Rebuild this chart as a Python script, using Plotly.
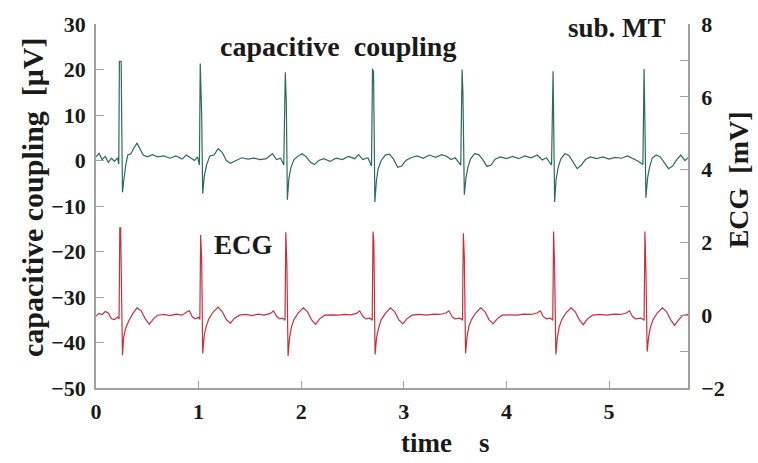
import plotly.graph_objects as go

# ---- data ----
# capacitive coupling signal (left axis, microvolts)
cc_time = [0.00, 0.03, 0.06, 0.09, 0.12, 0.15, 0.18, 0.21, 0.222,
           0.228, 0.245, 0.250, 0.258, 0.27, 0.29, 0.31, 0.34, 0.37, 0.40, 0.43, 0.46,
           0.50, 0.55, 0.60, 0.66, 0.72, 0.78, 0.84, 0.88, 0.92, 0.96, 0.99, 1.008,
           1.016, 1.024, 1.030, 1.040, 1.055, 1.08, 1.11, 1.15, 1.19, 1.23, 1.27, 1.31,
           1.36, 1.42, 1.48, 1.54, 1.60, 1.66, 1.72, 1.76, 1.80, 1.83,
           1.845, 1.855, 1.865, 1.88, 1.90, 1.93, 1.97, 2.01, 2.05, 2.09, 2.13, 2.17,
           2.22, 2.28, 2.34, 2.40, 2.46, 2.52, 2.56, 2.60, 2.65, 2.685,
           2.695, 2.705, 2.718, 2.733, 2.75, 2.78, 2.82, 2.86, 2.90, 2.94, 2.98, 3.02,
           3.07, 3.13, 3.19, 3.25, 3.31, 3.37, 3.42, 3.46, 3.50, 3.555,
           3.568, 3.576, 3.590, 3.605, 3.625, 3.65, 3.69, 3.73, 3.77, 3.81, 3.85, 3.89,
           3.94, 4.00, 4.06, 4.12, 4.18, 4.24, 4.30, 4.35, 4.39, 4.44,
           4.455, 4.465, 4.470, 4.485, 4.505, 4.53, 4.57, 4.61, 4.65, 4.69, 4.73, 4.77,
           4.82, 4.88, 4.94, 5.00, 5.06, 5.12, 5.18, 5.24, 5.29, 5.33,
           5.342, 5.352, 5.360, 5.375, 5.395, 5.42, 5.46, 5.50, 5.54, 5.58, 5.62, 5.66,
           5.70, 5.74, 5.77]
cc_uV = [0.8, 1.6, 0.2, 0.9, -0.4, 0.5, -0.2, 0.6, -0.8,
         21.8, 21.8, 14.0, -7.0, -4.5, -1.0, 1.2, 1.5, 2.8, 3.8, 2.5, 1.2,
         0.8, 1.3, 0.8, 1.0, 0.5, 1.0, 0.3, 1.2, 0.6, 0.0, 0.8, -1.0,
         21.3, 14.5, 10.0, -7.3, -3.5, -0.8, 1.0, 1.2, 2.6, 1.8, 0.0, -0.6,
         0.0, 0.6, 0.3, 0.5, 0.2, 0.4, 1.5, 0.2, 0.5, -1.0,
         19.4, 12.5, -8.6, -4.0, -1.5, 0.2, 1.0, 1.5, 0.8, -0.4, -0.9, 0.0,
         0.4, -0.2, 0.5, 0.2, 0.9, 0.4, 1.3, 0.2, 0.6, -1.2,
         20.2, 19.5, -9.1, -4.5, -1.8, 0.0, 1.2, 1.4, 0.3, -1.5, -1.2, 0.0,
         0.6, 1.0, 0.5, 1.2, 0.7, 1.3, 0.9, 0.2, 0.6, -1.0,
         20.0, 15.0, -7.5, -4.0, -1.5, 0.3, 1.5, 1.3, 0.2, -1.3, -1.0, 0.3,
         0.8, 0.4, 0.9, 0.4, 1.0, 0.6, 1.2, 0.1, 0.6, -1.0,
         19.6, 5.0, -9.1, -4.0, -1.5, 0.3, 1.5, 1.1, -0.5, -1.8, -1.0, 0.2,
         0.8, 0.4, 0.8, 0.3, 0.7, 0.5, 1.0, 0.4, -0.2, -0.9,
         20.1, 5.0, -8.2, -4.0, -1.5, 0.5, 1.2, 0.8, -0.4, -1.8, -1.2, 0.2,
         1.2, 0.0, 0.6]

# ECG signal (right axis, millivolts)
ecg_time = [0.00, 0.03, 0.06, 0.09, 0.12, 0.15, 0.18, 0.21, 0.225,
            0.232, 0.240, 0.248, 0.258, 0.27, 0.29, 0.32, 0.36, 0.40, 0.44, 0.48, 0.52,
            0.56, 0.60, 0.66, 0.72, 0.78, 0.84, 0.88, 0.91, 0.94, 0.97, 1.00, 1.012,
            1.020, 1.030, 1.040, 1.055, 1.075, 1.10, 1.14, 1.19, 1.23, 1.27, 1.31, 1.35,
            1.40, 1.46, 1.52, 1.58, 1.64, 1.70, 1.73, 1.76, 1.79, 1.82, 1.842,
            1.850, 1.860, 1.872, 1.887, 1.905, 1.93, 1.97, 2.02, 2.06, 2.10, 2.14, 2.18,
            2.23, 2.30, 2.36, 2.42, 2.48, 2.54, 2.57, 2.60, 2.63, 2.67, 2.692,
            2.700, 2.708, 2.720, 2.735, 2.755, 2.78, 2.82, 2.87, 2.91, 2.95, 2.99, 3.03,
            3.08, 3.15, 3.22, 3.29, 3.35, 3.41, 3.44, 3.47, 3.50, 3.55, 3.572,
            3.580, 3.590, 3.602, 3.617, 3.635, 3.66, 3.70, 3.75, 3.79, 3.83, 3.87, 3.91,
            3.96, 4.03, 4.10, 4.17, 4.24, 4.30, 4.33, 4.36, 4.39, 4.43, 4.452,
            4.460, 4.470, 4.482, 4.497, 4.515, 4.54, 4.58, 4.63, 4.67, 4.71, 4.75, 4.79,
            4.84, 4.91, 4.98, 5.05, 5.11, 5.17, 5.20, 5.23, 5.26, 5.31, 5.342,
            5.350, 5.360, 5.372, 5.387, 5.405, 5.43, 5.47, 5.52, 5.56, 5.60, 5.64, 5.68,
            5.72, 5.77]
ecg_mV = [-0.02, 0.05, 0.02, 0.10, 0.06, -0.10, -0.12, -0.05, -0.10,
          2.40, 2.40, 1.00, -1.10, -0.60, -0.35, -0.15, 0.05, 0.20, 0.12, -0.10, -0.25,
          -0.10, 0.00, 0.02, -0.01, 0.03, 0.00, 0.08, 0.12, -0.05, -0.10, -0.06, -0.12,
          2.20, 1.50, -1.05, -0.55, -0.30, -0.10, 0.08, 0.22, 0.10, -0.12, -0.22, -0.08,
          0.00, 0.02, -0.01, 0.03, 0.00, 0.05, 0.12, -0.03, -0.10, -0.08, -0.14,
          2.28, 1.40, -1.12, -0.60, -0.32, -0.12, 0.06, 0.20, 0.10, -0.12, -0.25, -0.10,
          0.00, 0.01, 0.00, 0.02, 0.01, 0.05, 0.12, -0.03, -0.10, -0.08, -0.14,
          2.30, 2.00, -1.08, -0.60, -0.35, -0.12, 0.05, 0.20, 0.10, -0.12, -0.24, -0.10,
          0.00, 0.02, 0.00, 0.03, 0.02, 0.06, 0.12, -0.04, -0.10, -0.08, -0.14,
          2.25, 1.60, -1.05, -0.58, -0.30, -0.12, 0.06, 0.20, 0.10, -0.12, -0.24, -0.10,
          0.00, 0.01, 0.00, 0.03, 0.02, 0.06, 0.12, -0.04, -0.10, -0.08, -0.14,
          2.30, 1.30, -1.08, -0.60, -0.32, -0.12, 0.06, 0.20, 0.10, -0.12, -0.26, -0.10,
          0.00, 0.02, 0.00, 0.03, 0.02, 0.06, 0.12, -0.04, -0.10, -0.08, -0.14,
          2.30, 1.20, -1.00, -0.58, -0.32, -0.12, 0.06, 0.20, 0.10, -0.12, -0.28, -0.12,
          0.00, 0.02]

x_ticks = [0, 1, 2, 3, 4, 5]
left_ticks = [-50, -40, -30, -20, -10, 0, 10, 20, 30]
right_ticks = [-2, -1, 0, 1, 2, 3, 4, 5, 6, 7, 8]
right_labels = ["\u22122", "", "0", "", "2", "", "4", "", "6", "", "8"]

FONT = "Liberation Serif"
AXIS_COLOR = "#a0a0a0"
TEXT_COLOR = "#1a1a1a"

fig = go.Figure()
fig.add_trace(go.Scatter(x=cc_time, y=cc_uV, mode="lines",
                         line=dict(color="#2d6b5c", width=1.2), yaxis="y",
                         showlegend=False))
fig.add_trace(go.Scatter(x=ecg_time, y=ecg_mV, mode="lines",
                         line=dict(color="#c8303f", width=1.2), yaxis="y2",
                         showlegend=False))

tickfont = dict(family=FONT, size=22, color=TEXT_COLOR, weight="bold")

fig.update_layout(
    width=758, height=463, autosize=False,
    margin=dict(l=96, r=70, t=20, b=75),
    paper_bgcolor="white", plot_bgcolor="white",
    font=dict(family=FONT, color=TEXT_COLOR),
    xaxis=dict(range=[0, 5.77], tickmode="array", tickvals=x_ticks,
               ticks="inside", ticklen=7, tickcolor=AXIS_COLOR, tickwidth=1.2,
               showline=True, linecolor=AXIS_COLOR, linewidth=1.5,
               showgrid=False, zeroline=False, tickfont=tickfont,
               ticklabelstandoff=3),
    yaxis=dict(range=[-50, 30], tickmode="array", tickvals=left_ticks,
               ticks="inside", ticklen=8, tickcolor=AXIS_COLOR, tickwidth=1.2,
               showline=True, linecolor=AXIS_COLOR, linewidth=1.5,
               showgrid=False, zeroline=False, tickfont=tickfont,
               ticklabelstandoff=4),
    yaxis2=dict(range=[-2, 8], overlaying="y", side="right", anchor="x",
                tickmode="array", tickvals=right_ticks, ticktext=right_labels,
                ticks="inside", ticklen=8, tickcolor=AXIS_COLOR, tickwidth=1.2,
                showline=True, linecolor=AXIS_COLOR, linewidth=1.5,
                showgrid=False, zeroline=False, tickfont=tickfont,
                ticklabelstandoff=7),
)

afont = dict(family=FONT, size=27, color=TEXT_COLOR, weight="bold")
nb = "\u00a0"
fig.add_annotation(x=2.36, y=25.0, xref="x", yref="y",
                   text="capacitive" + nb * 2 + "coupling", showarrow=False,
                   font=dict(family=FONT, size=28, color=TEXT_COLOR, weight="bold"),
                   xanchor="center", yanchor="middle")
fig.add_annotation(x=1.44, y=-18.5, xref="x", yref="y", text="ECG",
                   showarrow=False, font=afont, xanchor="center", yanchor="middle")
fig.add_annotation(x=5.08, y=0.99, xref="x", yref="paper", text="sub." + nb + "MT",
                   showarrow=False, font=afont, xanchor="center", yanchor="middle")
fig.add_annotation(x=3.40, y=-0.152, xref="x", yref="paper",
                   text="time" + nb * 4 + "s", showarrow=False, font=afont,
                   xanchor="center", yanchor="middle")
fig.add_annotation(x=-0.1064, y=0.522, xref="paper", yref="paper",
                   text="capacitive" + nb + "coupling" + nb * 2 + "[\u03bcV]",
                   textangle=-90, showarrow=False,
                   font=dict(family=FONT, size=30, color=TEXT_COLOR, weight="bold"),
                   xanchor="center", yanchor="middle")
fig.add_annotation(x=1.086, y=0.573, xref="paper", yref="paper",
                   text="ECG" + nb * 2 + "[mV]", textangle=-90, showarrow=False,
                   font=dict(family=FONT, size=28, color=TEXT_COLOR, weight="bold"),
                   xanchor="center", yanchor="middle")

fig.write_html("out.html", config={"displayModeBar": False},
               post_script="document.body.style.margin='0';")
